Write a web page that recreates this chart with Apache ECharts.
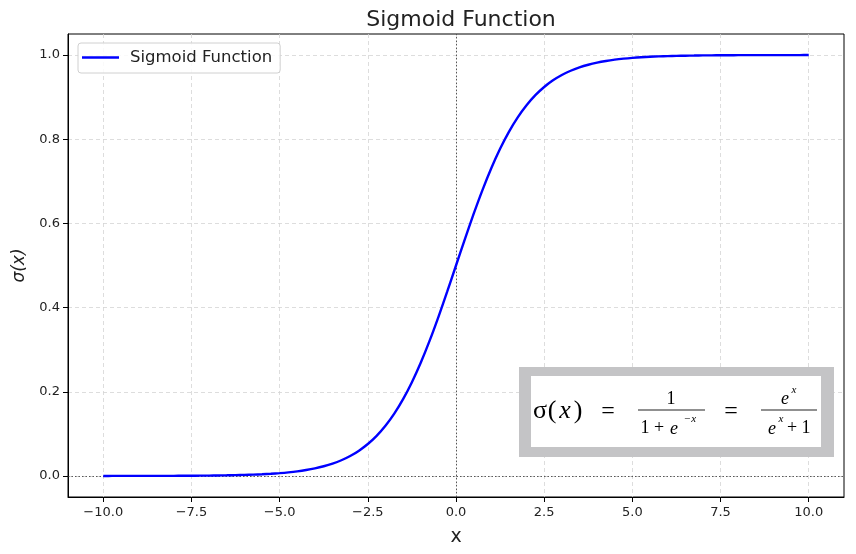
<!DOCTYPE html>
<html lang="en">
<head>
    <meta charset="UTF-8">
    <script src="https://cdn.jsdelivr.net/npm/echarts@6/dist/echarts.min.js"></script>
    <title>Sigmoid Function</title>
    <style>
        html, body { margin: 0; padding: 0; background: #fff; }
    </style>
</head>
<body>
<div id="main" style="width: 856px;height:554px;"></div>
<script type="text/javascript">

    // values, every 0.25 on x
    var xValues = [-10, -9.75, -9.5, -9.25, -9, -8.75, -8.5, -8.25, -8, -7.75, -7.5, -7.25, -7, -6.75, -6.5, -6.25,
        -6, -5.75, -5.5, -5.25, -5, -4.75, -4.5, -4.25, -4, -3.75, -3.5, -3.25, -3, -2.75, -2.5, -2.25,
        -2, -1.75, -1.5, -1.25, -1, -0.75, -0.5, -0.25, 0, 0.25, 0.5, 0.75, 1, 1.25, 1.5, 1.75,
        2, 2.25, 2.5, 2.75, 3, 3.25, 3.5, 3.75, 4, 4.25, 4.5, 4.75, 5, 5.25, 5.5, 5.75,
        6, 6.25, 6.5, 6.75, 7, 7.25, 7.5, 7.75, 8, 8.25, 8.5, 8.75, 9, 9.25, 9.5, 9.75, 10];
    var sigmoidValues = [0.0000, 0.0001, 0.0001, 0.0001, 0.0001, 0.0002, 0.0002, 0.0003, 0.0003, 0.0004, 0.0006, 0.0007,
        0.0009, 0.0012, 0.0015, 0.0019, 0.0025, 0.0032, 0.0041, 0.0052, 0.0067, 0.0086, 0.0110, 0.0141,
        0.0180, 0.0230, 0.0293, 0.0373, 0.0474, 0.0601, 0.0759, 0.0953, 0.1192, 0.1480, 0.1824, 0.2227,
        0.2689, 0.3208, 0.3775, 0.4378, 0.5000, 0.5622, 0.6225, 0.6792, 0.7311, 0.7773, 0.8176, 0.8520,
        0.8808, 0.9047, 0.9241, 0.9399, 0.9526, 0.9627, 0.9707, 0.9770, 0.9820, 0.9859, 0.9890, 0.9914,
        0.9933, 0.9948, 0.9959, 0.9968, 0.9975, 0.9981, 0.9985, 0.9988, 0.9991, 0.9993, 0.9994, 0.9996,
        0.9997, 0.9997, 0.9998, 0.9998, 0.9999, 0.9999, 0.9999, 0.9999, 1.0000];
    var xTicks = [-10, -7.5, -5, -2.5, 0, 2.5, 5, 7.5, 10];
    var yTicks = [0, 0.2, 0.4, 0.6, 0.8, 1.0];

    var points = xValues.map(function (x, i) { return [x, sigmoidValues[i]]; });

    function fmt(v) {
        return v < 0 ? '\u2212' + Math.abs(v).toFixed(1) : v.toFixed(1);
    }

    // formula box pieces
    var serif = 'Liberation Serif';
    function txt(s, x, y, size, italic) {
        return {
            type: 'text', z: 101, x: x, y: y,
            style: {
                text: s, fontSize: size, fontFamily: serif, fontStyle: italic ? 'italic' : 'normal',
                fill: '#000', align: 'center', verticalAlign: 'middle'
            }
        };
    }
    function bar(x1, x2, y) {
        return { type: 'line', z: 101, shape: { x1: x1, y1: y, x2: x2, y2: y }, style: { stroke: '#222', lineWidth: 1.2 } };
    }

    var myChart = echarts.init(document.getElementById('main'));

    var option = {
        animation: false,
        backgroundColor: '#fff',
        title: {
            text: 'Sigmoid Function',
            left: 456, top: 4, textAlign: 'center',
            textStyle: { fontFamily: 'DejaVu Sans', fontSize: 22, fontWeight: 'normal', color: '#222' }
        },
        legend: {
            left: 78, top: 43,
            padding: [6, 8, 7, 4],
            itemWidth: 37, itemHeight: 2.5,
            borderColor: '#d0d0d0', borderWidth: 1, borderRadius: 3,
            backgroundColor: 'rgba(255,255,255,0.85)',
            textStyle: { fontFamily: 'DejaVu Sans', fontSize: 16.5, color: '#222', padding: [0, 0, 0, 6] },
            data: [{ name: 'Sigmoid Function', icon: 'rect' }]
        },
        grid: {
            left: 68, right: 12, top: 34, bottom: 57,
            show: true, borderColor: '#000', borderWidth: 1
        },
        xAxis: {
            type: 'value', min: -11, max: 11,
            name: 'x', nameLocation: 'middle', nameGap: 31,
            nameTextStyle: { fontFamily: 'DejaVu Sans', fontSize: 19, color: '#222' },
            axisLine: { show: true, onZero: false, lineStyle: { color: '#000' } },
            axisTick: { show: true, length: 5, customValues: xTicks, lineStyle: { color: '#000' } },
            axisLabel: { customValues: xTicks, formatter: fmt, margin: 9, fontFamily: 'DejaVu Sans', fontSize: 13, color: '#222' },
            splitLine: { show: true, lineStyle: { type: [4, 3], color: '#d4d4d4', width: 0.8 } }
        },
        yAxis: {
            type: 'value', min: -0.05, max: 1.05,
            name: '\u03c3(x)', nameLocation: 'middle', nameGap: 39, nameRotate: 90,
            nameTextStyle: { fontFamily: 'DejaVu Sans', fontSize: 17, color: '#222', fontStyle: 'italic' },
            axisLine: { show: true, onZero: false, lineStyle: { color: '#000' } },
            axisTick: { show: true, length: 5, customValues: yTicks, lineStyle: { color: '#000' } },
            axisLabel: { customValues: yTicks, formatter: fmt, margin: 8, fontFamily: 'DejaVu Sans', fontSize: 13, color: '#222' },
            splitLine: { show: true, lineStyle: { type: [4, 3], color: '#d4d4d4', width: 0.8 } }
        },
        series: [{
            name: 'Sigmoid Function',
            type: 'line',
            data: points,
            symbol: 'none',
            smooth: 0.3,
            z: 3,
            lineStyle: { color: '#0000ff', width: 2.4 },
            itemStyle: { color: '#0000ff' },
            markLine: {
                silent: true, symbol: 'none', z: 2,
                label: { show: false },
                lineStyle: { type: [1.5, 2], color: '#333', width: 0.8 },
                data: [{ xAxis: 0 }, { yAxis: 0 }]
            }
        }],
        graphic: [
            { type: 'rect', z: 100, shape: { x: 519, y: 367, width: 315, height: 90 }, style: { fill: '#c4c4c6' } },
            { type: 'rect', z: 100, shape: { x: 531, y: 376, width: 290, height: 71 }, style: { fill: '#fff' } },
            txt('\u03c3', 540, 411, 26, false),
            txt('(', 552, 411, 26, false),
            txt('x', 565, 411, 26, true),
            txt(')', 578, 411, 26, false),
            txt('=', 608, 412, 24, false),
            txt('1', 671, 399, 18, false),
            bar(638, 705, 410),
            txt('1', 645, 428, 18, false),
            txt('+', 659, 428, 18, false),
            txt('e', 674, 429, 18, true),
            txt('\u2212x', 690, 419, 11, true),
            txt('=', 731, 412, 24, false),
            txt('e', 785, 399, 18, true),
            txt('x', 794, 390, 11, true),
            bar(761, 817, 410),
            txt('e', 772, 429, 18, true),
            txt('x', 781, 419, 11, true),
            txt('+', 792, 428, 18, false),
            txt('1', 806, 428, 18, false)
        ]
    };

    myChart.setOption(option);

</script>
</body>
</html>
